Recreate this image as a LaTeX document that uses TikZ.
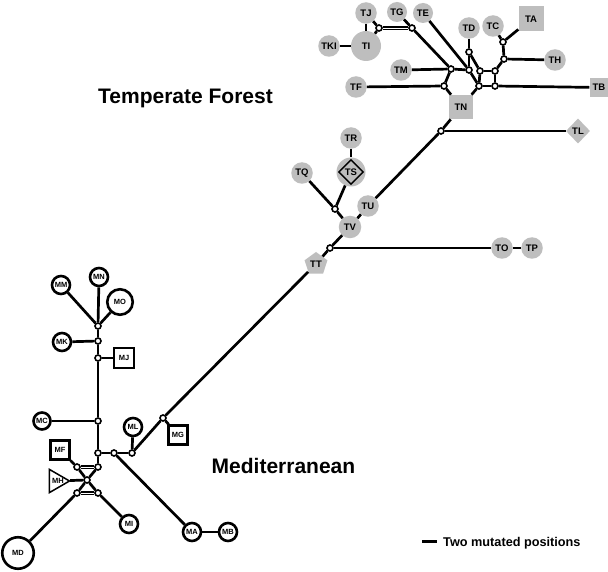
\documentclass[tikz,border=0pt]{standalone}
\usepackage{fontspec}
\newfontfamily\arialf{Liberation Sans}
\usetikzlibrary{shapes.geometric}
\definecolor{tgray}{RGB}{190,190,190}
\begin{document}
\begin{tikzpicture}[x=1pt,y=-1pt,
  edge/.style={line width=2.7pt},
  dedge/.style={double,double distance=0.6pt,line width=1.5pt},
  tfont/.style={font=\arialf\bfseries\fontsize{9.5}{10}\selectfont},
  mfont/.style={font=\arialf\bfseries\fontsize{7.5}{8}\selectfont},
  tc/.style={circle,fill=tgray,inner sep=0pt,minimum size=21.5pt,tfont},
  tsq/.style={rectangle,fill=tgray,inner sep=0pt,tfont},
  mc/.style={circle,draw=black,line width=2.6pt,fill=white,inner sep=0pt,minimum size=18pt,mfont},
  msq/.style={rectangle,draw=black,line width=2.6pt,fill=white,inner sep=0pt,minimum size=18.5pt,mfont},
  jn/.style={circle,draw=black,fill=white,line width=1.6pt,minimum size=6pt,inner sep=0pt},
  title/.style={anchor=base west,inner sep=0pt,font=\arialf\bfseries\fontsize{21}{24}\selectfont}
]
\useasboundingbox[fill=white] (0,0) rectangle (608,572);

% ---------- Temperate forest haplotypes ----------
\node[tc] (TJ) at (366,13) {TJ};
\node[tc,minimum size=20pt] (TG) at (397,12) {TG};
\node[tc,minimum size=20pt] (TE) at (423,13) {TE};
\node[tc,minimum size=30pt] (TI) at (366,46) {TI};
\node[tc] (TKI) at (329,46) {TKI};
\node[tc] (TD) at (469,28) {TD};
\node[tc] (TC) at (493,26) {TC};
\node[tsq,minimum size=25pt] (TA) at (531,19) {TA};
\node[tc] (TH) at (555,60) {TH};
\node[tc] (TM) at (401,70) {TM};
\node[tc] (TF) at (356,87) {TF};
\node[tsq,minimum size=19pt] (TB) at (599,87.5) {TB};
\node[tsq,minimum size=24.3pt] (TN) at (461,107) {TN};
\node[diamond,fill=tgray,inner sep=0pt,minimum width=24pt,minimum height=25pt,tfont] (TL) at (578,131) {TL};
\node[tc] (TR) at (351,138) {TR};
\node[tc,minimum size=29pt] (TS) at (351,172) {};
\node[diamond,draw=black,line width=1.4pt,fill=tgray,inner sep=0pt,minimum width=25pt,minimum height=25pt,tfont] (TSd) at (351,172) {TS};
\node[tc] (TQ) at (302,173) {TQ};
\node[tc] (TU) at (368,206) {TU};
\node[tc,minimum size=22.5pt] (TV) at (350,227) {TV};
\node[tc] (TO) at (502,248) {TO};
\node[tc] (TP) at (532,248) {TP};
\node[regular polygon,regular polygon sides=5,fill=tgray,inner sep=0pt,minimum size=24pt,tfont] (TT) at (316,264) {TT};

% junctions (T)
\node[jn] (jTJ) at (379,28) {};
\node[jn] (jTG) at (412,28) {};
\node[jn] (jA) at (451,69) {};
\node[jn] (jB) at (469,70) {};
\node[jn] (jC) at (469,52) {};
\node[jn] (jD) at (480,71) {};
\node[jn] (jE) at (495,71) {};
\node[jn] (jF1) at (503,42) {};
\node[jn] (jF2) at (504,59) {};
\node[jn] (jG) at (444,86) {};
\node[jn] (jH) at (479,86) {};
\node[jn] (jI) at (495,86) {};
\node[jn] (jTL) at (441,131) {};
\node[jn] (jTQ) at (335,209) {};
\node[jn] (jTO) at (330,248) {};

% ---------- Mediterranean haplotypes ----------
\node[mc] (MN) at (99,277) {MN};
\node[mc] (MM) at (61,285) {MM};
\node[mc,minimum size=25.5pt] (MO) at (120,302) {MO};
\node[mc] (MK) at (62,342) {MK};
\node[msq,minimum size=20pt] (MJ) at (124,358) {MJ};
\node[mc,minimum size=17pt] (MC) at (42,421) {MC};
\node[mc] (ML) at (133,427) {ML};
\node[msq] (MG) at (178,435) {MG};
\node[msq] (MF) at (60,450) {MF};
\node[regular polygon,regular polygon sides=3,shape border rotate=-90,draw=black,line width=1.5pt,fill=white,inner sep=0pt,minimum size=27pt] (MH) at (56,481) {};
\node[mfont,inner sep=0pt] (MHt) at (58,481) {MH};
\node[mc,minimum size=31.5pt] (MD) at (18,553) {MD};
\node[mc] (MI) at (129,524) {MI};
\node[mc] (MA) at (192,532) {MA};
\node[mc] (MB) at (228,532) {MB};

% junctions (M)
\node[jn] (jTop) at (98,326) {};
\node[jn] (jMK) at (98,341) {};
\node[jn] (jMJ) at (98,358) {};
\node[jn] (jMC) at (98,421) {};
\node[jn] (jCen) at (98,453) {};
\node[jn] (jMA) at (114,453) {};
\node[jn] (jML) at (132,453) {};
\node[jn] (jMG) at (163,418) {};
\node[jn] (jR1) at (98,467) {};
\node[jn] (jL1) at (77,467) {};
\node[jn] (jX) at (87,480) {};
\node[jn] (jL2) at (77,493) {};
\node[jn] (jR2) at (98,493) {};

% ---------- edges ----------
\begin{scope}[edge]
\draw (TKI) -- (TI);
\draw (TJ) -- (TI);
\draw (TJ) -- (jTJ);
\draw (TI) -- (jTJ);
\draw (TG) -- (jTG);
\draw (jTG) -- (jA);
\draw (TM) -- (jA);
\draw (jA) -- (jB);
\draw (TE) -- (jB);
\draw (jB) -- (jH);
\draw (TD) -- (jC);
\draw (jC) -- (jB);
\draw (jC) -- (jD);
\draw (jD) -- (jE);
\draw (jD) -- (jH);
\draw (jE) -- (jI);
\draw (jH) -- (jI);
\draw (jI) -- (TB);
\draw (jE) -- (jF2);
\draw (jF2) -- (TH);
\draw (jF2) -- (jF1);
\draw (jF1) -- (TC);
\draw (jF1) -- (TA);
\draw (jA) -- (jG);
\draw (TF) -- (jG);
\draw (jG) -- (TN);
\draw (jH) -- (TN);
\draw (TN) -- (jTL);
\draw (jTL) -- (TL);
\draw (jTL) -- (TU);
\draw (TU) -- (TV);
\draw (TR) -- (TS);
\draw (TS) -- (jTQ);
\draw (TQ) -- (jTQ);
\draw (jTQ) -- (TV);
\draw (TV) -- (jTO);
\draw (jTO) -- (TO);
\draw (TO) -- (TP);
\draw (jTO) -- (TT);
\draw (TT) -- (jMG);
\draw (jMG) -- (MG);
\draw (jMG) -- (jML);
\draw (ML) -- (jML);
\draw (jML) -- (jMA);
\draw (jMA) -- (jCen);
\draw (jMA) -- (MA);
\draw (MA) -- (MB);
\draw (MN) -- (jTop);
\draw (MM) -- (jTop);
\draw (MO) -- (jTop);
\draw (jTop) -- (jMK);
\draw (jMK) -- (jMJ);
\draw (jMJ) -- (jMC);
\draw (jMC) -- (jCen);
\draw (MK) -- (jMK);
\draw (jMJ) -- (MJ);
\draw (MC) -- (jMC);
\draw (jCen) -- (jR1);
\draw (MF) -- (jL1);
\draw (jL1) -- (jX);
\draw (jX) -- (jR2);
\draw (jR1) -- (jX);
\draw (jX) -- (jL2);
\draw (MH) -- (jX);
\draw (jL2) -- (MD);
\draw (jR2) -- (MI);
\end{scope}
\draw[dedge] (jTJ) -- (jTG);
\draw[dedge] (jL1) -- (jR1);
\draw[dedge] (jL2) -- (jR2);

% ---------- titles and legend ----------
\node[title] (tf) at (98,104) {Temperate Forest};
\node[title] (med) at (211.5,473.5) {Mediterranean};
\coordinate (legA) at (422,541.5);
\coordinate (legB) at (437,541.5);
\draw[edge] (legA) -- (legB);
\node[anchor=base west,inner sep=0pt,font=\arialf\bfseries\fontsize{12.7}{14}\selectfont] (leg) at (443,546) {Two mutated positions};
\end{tikzpicture}
\end{document}
